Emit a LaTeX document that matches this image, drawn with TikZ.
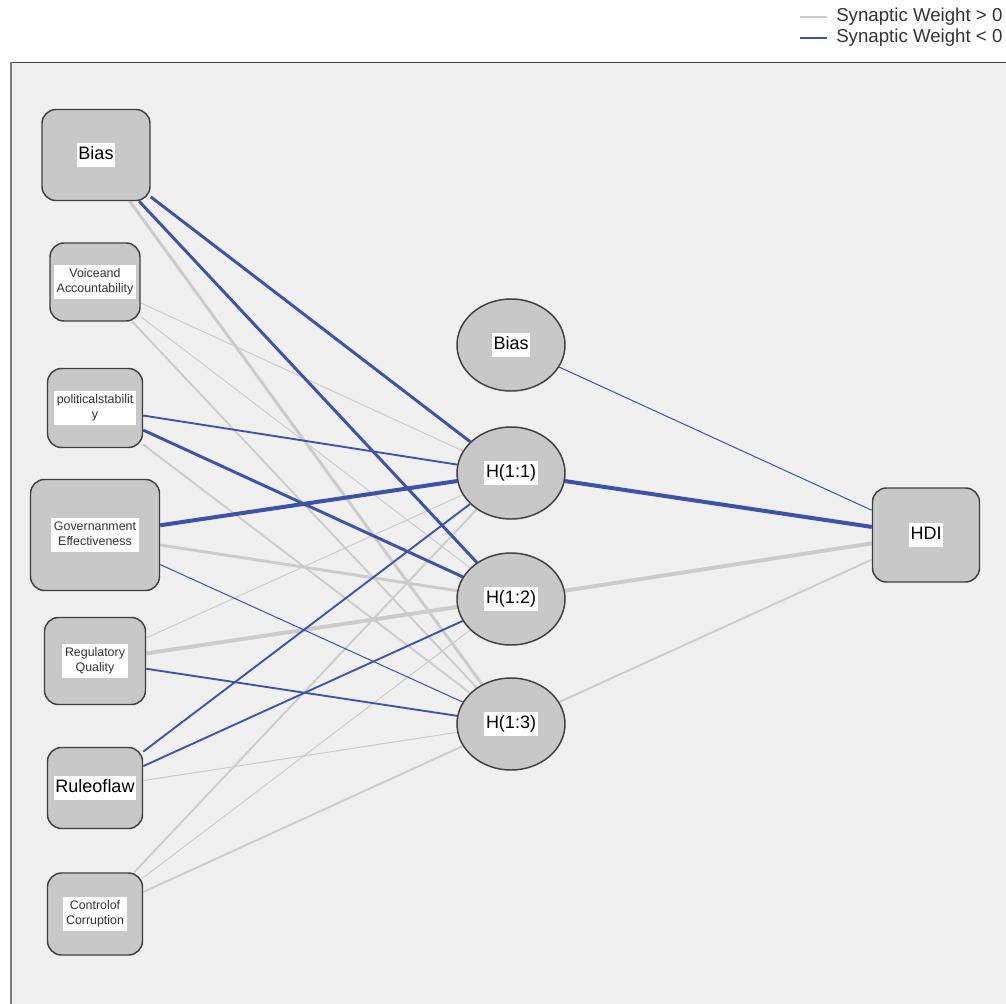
\documentclass[tikz,border=0pt]{standalone}
\usepackage{fontspec}
\setmainfont{Liberation Sans}
\usetikzlibrary{shapes.geometric}
\pgfdeclarelayer{bg}
\pgfdeclarelayer{edges}
\pgfsetlayers{bg,edges,main}
\definecolor{panel}{RGB}{240,240,240}
\definecolor{nodefill}{RGB}{200,200,200}
\definecolor{nodeline}{RGB}{64,64,64}
\definecolor{negc}{RGB}{62,82,172}
\definecolor{posc}{RGB}{204,204,204}
\newcommand{\lblbox}[1]{{\setlength{\fboxsep}{1.2pt}\colorbox{white}{\begin{tabular}{@{}c@{}}#1\end{tabular}}}}
\newcommand{\slblbox}[1]{{\setlength{\fboxsep}{2.2pt}\colorbox{white}{\begin{tabular}{@{}c@{}}#1\end{tabular}}}}
\tikzset{
  inbox/.style={rectangle, rounded corners=10.5pt, draw=nodeline, line width=1.1pt, fill=nodefill, inner sep=0pt},
  hid/.style={ellipse, draw=nodeline, line width=1.1pt, fill=nodefill, inner sep=0pt, minimum width={108*0.75pt}, minimum height={92*0.75pt}},
  big/.style={font=\fontsize{13.5}{15}\selectfont},
  small/.style={font=\fontsize{9.3}{10.8}\selectfont, text=black!80},
  negwt/.style={draw=negc},
  poswt/.style={draw=posc},
  wa/.style={line width=0.75pt},
  wb/.style={line width=1.4pt},
  wc/.style={line width=2.2pt},
  wd/.style={line width=3pt},
  legtext/.style={anchor=west, inner sep=0pt, font=\fontsize{14}{16}\selectfont, text=black!80}
}
\begin{document}
\begin{tikzpicture}[x=0.75pt,y=-0.75pt]
\useasboundingbox (0,0) rectangle (1006,1003);
% legend
\coordinate (l1a) at (800,17);
\coordinate (l1b) at (827,17);
\coordinate (l2a) at (800,38);
\coordinate (l2b) at (827,38);
\draw[poswt, line width=0.9pt] (l1a) -- (l1b);
\draw[negwt, line width=0.9pt] (l2a) -- (l2b);
\node[legtext] (t1) at (836,17) {Synaptic Weight > 0};
\node[legtext] (t2) at (836,38) {Synaptic Weight < 0};
% panel
\begin{pgfonlayer}{bg}
\fill[panel] (11,62) rectangle (1008,1005);
\draw[black!75, line width=1.1pt] (10,62.5) -- (1008,62.5);
\draw[black!50, line width=1.1pt] (11,62) -- (11,1005);
\end{pgfonlayer}
% input nodes
\node[inbox, minimum width={108*0.75pt}, minimum height={91*0.75pt}, big] (ib) at (96,155) {\lblbox{Bias}};
\node[inbox, minimum width={90*0.75pt}, minimum height={78*0.75pt}, small] (iv) at (95,282) {\slblbox{Voiceand\\Accountability}};
\node[inbox, minimum width={95*0.75pt}, minimum height={79*0.75pt}, small] (ip) at (95,408) {\slblbox{politicalstabilit\\y}};
\node[inbox, minimum width={129*0.75pt}, minimum height={111*0.75pt}, small] (ig) at (95,535) {\slblbox{Governanment\\Effectiveness}};
\node[inbox, minimum width={101*0.75pt}, minimum height={87*0.75pt}, small] (ir) at (95,661) {\slblbox{Regulatory\\Quality}};
\node[inbox, minimum width={95*0.75pt}, minimum height={81*0.75pt}, big] (il) at (95,788) {\lblbox{Ruleoflaw}};
\node[inbox, minimum width={95*0.75pt}, minimum height={82*0.75pt}, small] (ic) at (95,914) {\slblbox{Controlof\\Corruption}};
% hidden nodes
\node[hid, big] (hb) at (511,345) {\lblbox{Bias}};
\node[hid, big] (h1) at (511,473) {\lblbox{H(1:1)}};
\node[hid, big] (h2) at (511,599) {\lblbox{H(1:2)}};
\node[hid, big] (h3) at (511,724) {\lblbox{H(1:3)}};
% output
\node[inbox, minimum width={107*0.75pt}, minimum height={94*0.75pt}, big] (out) at (926,535) {\lblbox{HDI}};
% edges
\begin{pgfonlayer}{edges}
\draw[poswt, wa] (iv) -- (h1);
\draw[poswt, wa] (iv) -- (h2);
\draw[poswt, wa] (ir) -- (h1);
\draw[poswt, wa] (il) -- (h3);
\draw[poswt, wa] (ic) -- (h2);
\draw[poswt, wb] (iv) -- (h3);
\draw[poswt, wb] (ip) -- (h3);
\draw[poswt, wb] (ic) -- (h1);
\draw[poswt, wb] (ic) -- (h3);
\draw[poswt, wc] (ib) -- (h3);
\draw[poswt, wc] (ig) -- (h2);
\draw[poswt, wd] (ir) -- (h2);
\draw[poswt, wb] (h3) -- (out);
\draw[poswt, wd] (h2) -- (out);
\draw[negwt, wc] (ib) -- (h1);
\draw[negwt, wc] (ib) -- (h2);
\draw[negwt, wb] (ip) -- (h1);
\draw[negwt, wc] (ip) -- (h2);
\draw[negwt, wd] (ig) -- (h1);
\draw[negwt, wa] (ig) -- (h3);
\draw[negwt, wb] (ir) -- (h3);
\draw[negwt, wb] (il) -- (h1);
\draw[negwt, wb] (il) -- (h2);
\draw[negwt, wa] (hb) -- (out);
\draw[negwt, wd] (h1) -- (out);
\end{pgfonlayer}
\end{tikzpicture}
\end{document}
